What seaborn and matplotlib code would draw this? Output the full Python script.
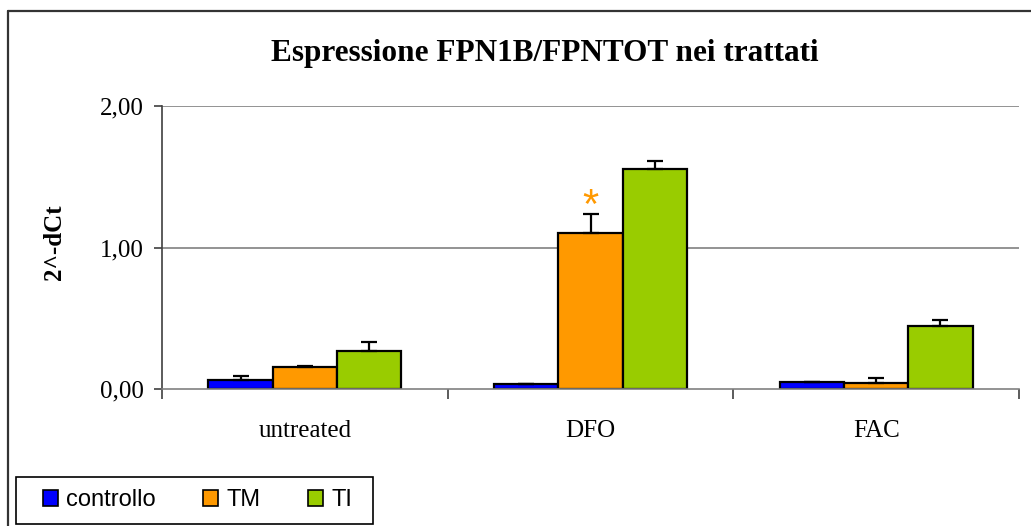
import matplotlib
matplotlib.use("Agg")
import matplotlib.pyplot as plt
from matplotlib.patches import Patch, Rectangle
from matplotlib.lines import Line2D
from matplotlib.ticker import FuncFormatter, FixedLocator
import numpy as np
import pandas as pd
import seaborn as sns

# Data
treatments = ["untreated", "DFO", "FAC"]
groups = ["controllo", "TM", "TI"]
controllo_vals = [0.064, 0.033, 0.047]
tm_vals = [0.157, 1.105, 0.045]
ti_vals = [0.270, 1.555, 0.445]
controllo_err = [0.026, 0.003, 0.004]
tm_err = [0.008, 0.132, 0.030]
ti_err = [0.060, 0.058, 0.043]
significant = [("DFO", "TM")]

colors = {"controllo": "#0000FF", "TM": "#FF9900", "TI": "#99CC00"}

values = {"controllo": controllo_vals, "TM": tm_vals, "TI": ti_vals}
errors = {"controllo": controllo_err, "TM": tm_err, "TI": ti_err}

df = pd.DataFrame(
    [(t, g, values[g][i], errors[g][i]) for g in groups for i, t in enumerate(treatments)],
    columns=["treatment", "group", "value", "err"],
)

sns.set_style("white")
plt.rcParams["text.color"] = "black"
plt.rcParams["axes.labelcolor"] = "black"
serif = ["Liberation Serif", "DejaVu Serif"]
sans = ["Liberation Sans", "DejaVu Sans"]

W, H = 1031, 526
fig = plt.figure(figsize=(W / 100, H / 100), dpi=100)
ax = fig.add_axes([162 / W, 1 - 389 / H, 857 / W, 283 / H])

sns.barplot(
    data=df, x="treatment", y="value", hue="group",
    order=treatments, hue_order=groups, palette=colors,
    saturation=1, width=0.675, gap=0, errorbar=None,
    edgecolor="black", linewidth=1.6, legend=False, ax=ax,
)

# Upward error bars on each bar
for g, cont in zip(groups, ax.containers):
    for i, bar in enumerate(cont.patches):
        xc = bar.get_x() + bar.get_width() / 2
        ax.errorbar(xc, values[g][i], yerr=[[0], [errors[g][i]]],
                    fmt="none", ecolor="black", elinewidth=1.6,
                    capsize=5.8, capthick=1.6, zorder=1)

# Significance marker
for t, g in significant:
    i = treatments.index(t)
    bar = ax.containers[groups.index(g)].patches[i]
    xc = bar.get_x() + bar.get_width() / 2
    ax.text(xc, values[g][i] + errors[g][i] + 0.05, "*", color="#FF9900",
            ha="center", va="center", fontsize=30, family=sans)

ax.set_ylim(0, 2)
ax.set_xlim(-0.5, 2.5)
ax.set_yticks([0, 1, 2])
ax.yaxis.set_major_formatter(FuncFormatter(lambda v, _: f"{v:.2f}".replace(".", ",")))
ax.grid(False)
for yv in [1, 2]:
    ax.axhline(yv, color="#808080", lw=1.2, zorder=0)

ax.xaxis.set_minor_locator(FixedLocator([-0.5, 0.5, 1.5, 2.5]))
ax.tick_params(axis="x", which="major", length=0, pad=22)
ax.tick_params(axis="x", which="minor", length=7, width=1.2, color="#404040", direction="out", bottom=True)
ax.tick_params(axis="y", which="major", length=6, width=1.2, color="#404040", direction="out", left=True, pad=7)
for lab in ax.get_xticklabels() + ax.get_yticklabels():
    lab.set_fontfamily(serif)
    lab.set_fontsize(18)
    lab.set_color("black")

ax.set_xlabel("")
ax.set_ylabel("2^-dCt", fontsize=18, fontweight="bold", family=serif, color="black")
ax.yaxis.set_label_coords(-0.112, 0.52)

for s in ["top", "right"]:
    ax.spines[s].set_visible(False)
ax.spines["left"].set_color("#404040")
ax.spines["left"].set_linewidth(1.2)
ax.spines["bottom"].set_color("#808080")
ax.spines["bottom"].set_linewidth(1.2)

fig.text(545 / W, 1 - 53 / H, "Espressione FPN1B/FPNTOT nei trattati",
         ha="center", va="center", fontsize=22.5, fontweight="bold", family=serif,
         color="black")

# Outer chart frame
fig.add_artist(Line2D([8 / W, 8 / W], [0, 1 - 11 / H], transform=fig.transFigure,
                      color="#333333", lw=1.6))
fig.add_artist(Line2D([8 / W, 1], [1 - 11 / H, 1 - 11 / H], transform=fig.transFigure,
                      color="#333333", lw=1.6))

# Legend with its own frame
fig.add_artist(Rectangle((16 / W, 1 - 524 / H), (373 - 16) / W, (524 - 477) / H,
                         transform=fig.transFigure, fill=False, edgecolor="black", lw=1.2))
handles = [Patch(facecolor=colors[g], edgecolor="black", linewidth=1.2) for g in groups]
fig.legend(handles, groups, loc="center left", bbox_to_anchor=(43 / W, 1 - 500 / H),
           ncol=3, frameon=False, prop={"family": sans, "size": 17},
           handlelength=0.64, handleheight=0.64, handletextpad=0.35,
           columnspacing=2.0, borderaxespad=0, borderpad=0)

fig.savefig("out.png", dpi=100)
